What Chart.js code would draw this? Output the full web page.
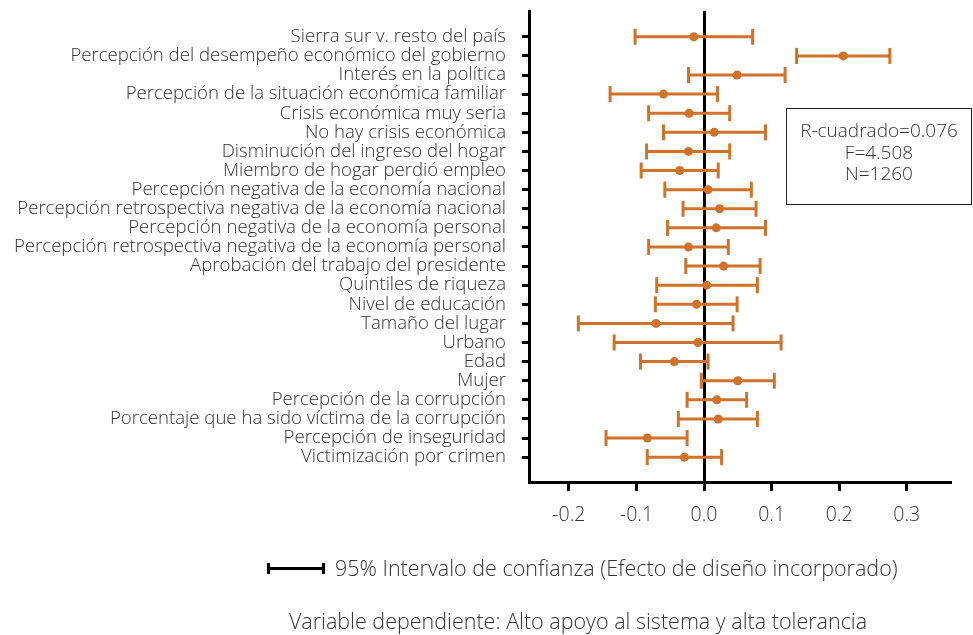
<!DOCTYPE html>
<html>
<head>
<meta charset="utf-8">
<script src="https://cdn.jsdelivr.net/npm/chart.js@4"></script>
<style>
  body { margin: 0; background: #fff; }
  .wrap { position: relative; width: 973px; height: 635px; font-family: "Open Sans", Roboto, sans-serif; font-weight: 300; color: #333; }
  canvas { position: absolute; left: 0; top: 0; }
  .stats { position: absolute; left: 786px; top: 108px; width: 184px; height: 84px; border: 1px solid #222; text-align: center; font-size: 19px; line-height: 21.5px; padding-top: 11px; box-sizing: content-box; }
  .legend-line { position: absolute; left: 267px; top: 567px; width: 58px; height: 3px; background: #000; }
  .legend-line::before, .legend-line::after { content: ""; position: absolute; top: -4px; width: 3px; height: 11px; background: #000; }
  .legend-line::before { left: 0; }
  .legend-line::after { right: 0; }
  .legend-text { position: absolute; left: 335px; top: 555px; font-size: 21.5px; line-height: 26px; white-space: nowrap; }
  .footer { position: absolute; left: 0; width: 1156px; top: 608px; text-align: center; font-size: 21.5px; line-height: 26px; white-space: nowrap; }
</style>
</head>
<body>
<div class="wrap">
  <canvas id="coefChart" width="973" height="635"></canvas>
  <div class="stats">R-cuadrado=0.076<br>F=4.508<br>N=1260</div>
  <div class="legend-line"></div>
  <div class="legend-text">95% Intervalo de confianza (Efecto de diseño incorporado)</div>
  <div class="footer">Variable dependiente: Alto apoyo al sistema y alta tolerancia</div>
</div>
<script>
const variables = [
  "Sierra sur v. resto del país",
  "Percepción del desempeño económico del gobierno",
  "Interés en la política",
  "Percepción de la situación económica familiar",
  "Crisis económica muy seria",
  "No hay crisis económica",
  "Disminución del ingreso del hogar",
  "Miembro de hogar perdió empleo",
  "Percepción negativa de la economía nacional",
  "Percepción retrospectiva negativa de la economía nacional",
  "Percepción negativa de la economía personal",
  "Percepción retrospectiva negativa de la economía personal",
  "Aprobación del trabajo del presidente",
  "Quintiles de riqueza",
  "Nivel de educación",
  "Tamaño del lugar",
  "Urbano",
  "Edad",
  "Mujer",
  "Percepción de la corrupción",
  "Porcentaje que ha sido víctima de la corrupción",
  "Percepción de inseguridad",
  "Victimización por crimen"
];

const estimates = [-0.015, 0.206, 0.049, -0.060, -0.022, 0.015, -0.023, -0.036, 0.006, 0.023, 0.018, -0.023,
  0.029, 0.004, -0.011, -0.071, -0.009, -0.044, 0.050, 0.019, 0.021, -0.084, -0.029];
const lowerCI = [-0.102, 0.137, -0.023, -0.139, -0.082, -0.060, -0.085, -0.093, -0.058, -0.031, -0.054, -0.082,
  -0.027, -0.070, -0.072, -0.186, -0.133, -0.094, -0.004, -0.025, -0.038, -0.145, -0.084];
const upperCI = [0.072, 0.275, 0.120, 0.020, 0.038, 0.091, 0.038, 0.021, 0.070, 0.077, 0.091, 0.036,
  0.083, 0.079, 0.049, 0.043, 0.114, 0.006, 0.104, 0.063, 0.079, -0.025, 0.026];

const xTicks = [-0.2, -0.1, 0, 0.1, 0.2, 0.3];
const xTickLabels = ["-0.2", "-0.1", "0.0", "0.1", "0.2", "0.3"];

const orange = "#d0722a";
const textColor = "#333";

// one small line dataset per row for the confidence interval, caps are rotated 'line' points
const ciSets = variables.map((v, i) => ({
  data: [{ x: lowerCI[i], y: i }, { x: upperCI[i], y: i }],
  showLine: true,
  borderColor: orange,
  borderWidth: 3,
  pointStyle: "line",
  rotation: 90,
  pointRadius: 8,
  pointBorderWidth: 3,
  pointBorderColor: orange,
  order: 1
}));

new Chart(document.getElementById("coefChart"), {
  type: "scatter",
  data: {
    datasets: [
      {
        data: estimates.map((e, i) => ({ x: e, y: i })),
        pointRadius: 4.5,
        pointBackgroundColor: orange,
        pointBorderWidth: 0,
        order: 0
      },
      ...ciSets
    ]
  },
  options: {
    responsive: false,
    animation: false,
    layout: { padding: { top: 8, right: 23, left: 0, bottom: 0 } },
    plugins: {
      legend: { display: false },
      tooltip: { enabled: false }
    },
    scales: {
      x: {
        type: "linear",
        min: -0.259,
        max: 0.364,
        z: 1,
        afterFit: (s) => { s.height = 153; s.paddingLeft = 0; s.paddingRight = 0; },
        afterBuildTicks: (s) => { s.ticks = xTicks.map(v => ({ value: v })); },
        border: { display: true, color: "#000", width: 3 },
        grid: {
          drawOnChartArea: true,
          color: (ctx) => (ctx.tick && ctx.tick.value === 0 ? "#000" : "rgba(0,0,0,0)"),
          lineWidth: 3,
          tickColor: "#000",
          tickWidth: 3,
          tickLength: 9
        },
        ticks: {
          color: textColor,
          font: { family: "Open Sans", weight: 300, size: 19.5 },
          padding: 13,
          maxRotation: 0,
          callback: (v, i) => xTickLabels[i]
        }
      },
      y: {
        type: "linear",
        reverse: true,
        min: -1.35,
        max: 23.3,
        afterFit: (s) => { s.width = 529; s.paddingTop = 0; s.paddingBottom = 0; },
        afterBuildTicks: (s) => { s.ticks = variables.map((v, i) => ({ value: i })); },
        border: { display: true, color: "#000", width: 3 },
        grid: {
          drawOnChartArea: false,
          tickColor: "#000",
          tickWidth: 3,
          tickLength: 7
        },
        ticks: {
          color: textColor,
          font: { family: "Open Sans", weight: 300, size: 18.6 },
          padding: 16,
          autoSkip: false,
          callback: (v) => variables[v]
        }
      }
    }
  }
});
</script>
</body>
</html>
